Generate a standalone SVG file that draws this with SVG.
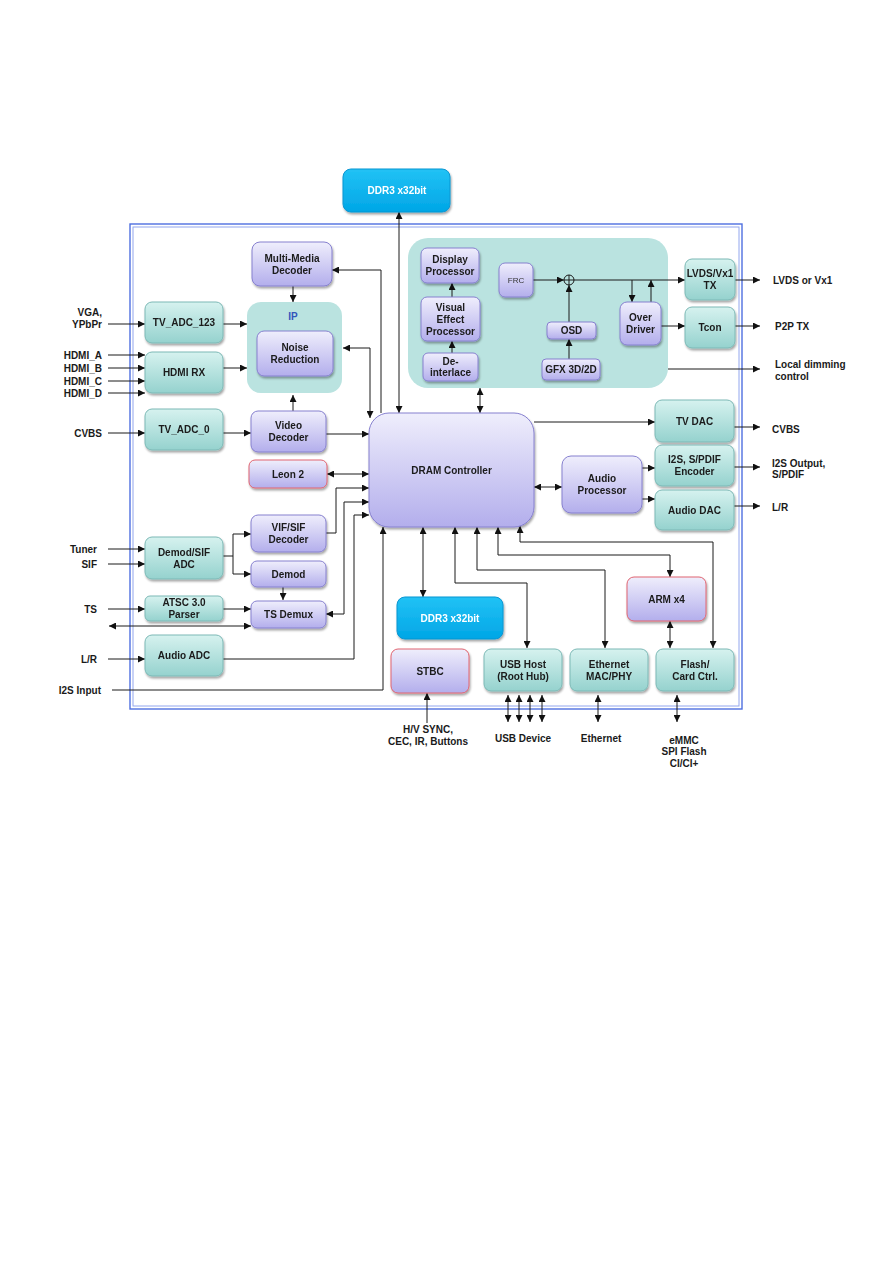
<svg xmlns="http://www.w3.org/2000/svg" width="893" height="1263" viewBox="0 0 893 1263">
<defs>
<linearGradient id="gTeal" x1="0" y1="0" x2="0" y2="1"><stop offset="0" stop-color="#d6f2ef"/><stop offset="1" stop-color="#95d2ce"/></linearGradient>
<linearGradient id="gPur" x1="0" y1="0" x2="0" y2="1"><stop offset="0" stop-color="#efeefc"/><stop offset="1" stop-color="#b3aeec"/></linearGradient>
<linearGradient id="gBlue" x1="0" y1="0" x2="0" y2="1"><stop offset="0" stop-color="#22c2f5"/><stop offset="1" stop-color="#00a6e6"/></linearGradient>
<filter id="sh" x="-10%" y="-10%" width="125%" height="130%"><feDropShadow dx="1" dy="2" stdDeviation="1.3" flood-color="#000" flood-opacity="0.35"/></filter>
<marker id="ah" viewBox="0 0 10 10" refX="10" refY="5" markerWidth="8" markerHeight="7" markerUnits="userSpaceOnUse" orient="auto-start-reverse"><path d="M0,0 L10,5 L0,10 z" fill="#111"/></marker>
<style>
.teal{fill:url(#gTeal);stroke:#7db9b6;stroke-width:1}
.pur{fill:url(#gPur);stroke:#8680cf;stroke-width:1}
.red{fill:url(#gPur);stroke:#e06470;stroke-width:1}
.ddr{fill:url(#gBlue);stroke:#0a96d2;stroke-width:1}
.area{fill:#bae3e0;stroke:none}
text{font-family:"Liberation Sans",Arial,sans-serif;font-weight:bold;font-size:10px;fill:#1a1a1a}
.c{text-anchor:middle}
.e{text-anchor:end}
.w{fill:#ffffff}
.ip{fill:#3355bb}
.frc{font-size:8px;font-weight:normal;fill:#333}
#connectors path,#connectors line{fill:none;stroke:#1a1a1a;stroke-width:1}
.a{marker-end:url(#ah)}
.d{marker-start:url(#ah);marker-end:url(#ah)}
</style>
</defs>
<rect width="893" height="1263" fill="#ffffff"/>
<g id="frame">
<rect x="130" y="224" width="612" height="485" fill="none" stroke="#4f6fe0" stroke-width="1.4"/>
<rect x="133" y="227" width="606" height="479" fill="none" stroke="#92a6ee" stroke-width="1"/>
</g>
<g id="display-area"><rect class="area" x="408" y="238" width="260" height="150" rx="20"/></g>
<g id="ip-area"><rect class="area" x="247" y="302" width="95" height="91" rx="14"/><text class="c ip" x="293" y="320">IP</text></g>

<g id="connectors">
<path class="d" d="M399,212 V413"/>
<path class="a" d="M381,413 V270 H332"/>
<path class="d" d="M343,348 H370 V418"/>
<path class="a" d="M293,286 V302"/>
<path class="a" d="M223,324 H247"/>
<path class="a" d="M223,368 H247"/>
<path class="a" d="M293,411 V395"/>
<path class="a" d="M223,433 H251"/>
<path class="a" d="M326,434 H369"/>
<path class="d" d="M327,474 H369"/>
<path class="a" d="M326,533 H336 V488 H369"/>
<path class="d" d="M369,502 H344 V614 H326"/>
<path class="a" d="M223,659 H354 V515 H369"/>
<path class="a" d="M112,690 H383 V527"/>
<path class="a" d="M223,556 H233 V534 H251"/>
<path class="a" d="M233,556 V574 H251"/>
<path class="a" d="M283,587 V600"/>
<path class="a" d="M223,609 H251"/>
<path class="d" d="M109,626 H251"/>
<path class="a" d="M108,324 H145"/>
<path class="a" d="M108,355 H145"/>
<path class="a" d="M108,368 H145"/>
<path class="a" d="M108,381 H145"/>
<path class="a" d="M108,393 H145"/>
<path class="a" d="M108,433 H145"/>
<path class="a" d="M108,549 H145"/>
<path class="a" d="M108,564 H145"/>
<path class="a" d="M108,609 H145"/>
<path class="a" d="M108,659 H145"/>
<path class="d" d="M480,388 V413"/>
<path class="a" d="M452,353 V341"/>
<path class="a" d="M452,297 V283"/>
<path class="a" d="M533,280 H564"/>
<path class="a" d="M569,359 V339"/>
<path class="a" d="M569,322 V285"/>
<path class="a" d="M574,280 H685"/>
<path class="a" d="M632,280 V302"/>
<path class="a" d="M651,302 V280"/>
<path class="a" d="M661,326 H685"/>
<path class="a" d="M735,280 H760"/>
<path class="a" d="M735,326 H760"/>
<path class="a" d="M668,369 H760"/>
<path class="a" d="M534,422 H655"/>
<path class="d" d="M534,487 H562"/>
<path class="a" d="M642,468 H655"/>
<path class="a" d="M642,499 H655"/>
<path class="a" d="M734,427 H760"/>
<path class="a" d="M734,467 H760"/>
<path class="a" d="M734,506 H760"/>
<path class="d" d="M423,527 V597"/>
<path class="d" d="M527,648 V583 H455 V527"/>
<path class="d" d="M605,648 V570 H477 V527"/>
<path class="d" d="M670,577 V555 H498 V527"/>
<path class="d" d="M713,648 V542 H520 V526"/>
<path class="d" d="M670,621 V648"/>
<path class="a" d="M427,723 V693"/>
<path class="d" d="M508,695 V722"/>
<path class="d" d="M519,695 V722"/>
<path class="d" d="M530,695 V722"/>
<path class="d" d="M542,695 V722"/>
<path class="d" d="M598,695 V722"/>
<path class="d" d="M677,695 V722"/>
<circle cx="569" cy="280" r="5" fill="#bae3e0" stroke="#1a1a1a" stroke-width="1"/>
<line x1="564" y1="280" x2="574" y2="280"/>
<line x1="569" y1="275" x2="569" y2="285"/>
</g>

<g id="ddr3-top" filter="url(#sh)"><rect class="ddr" x="343" y="169" width="107" height="43" rx="8"/><text class="c w" x="397" y="194">DDR3 x32bit</text></g>
<g id="mm-decoder" filter="url(#sh)"><rect class="pur" x="252" y="242" width="80" height="44" rx="8"/><text class="c" x="292" y="261.5">Multi-Media</text><text class="c" x="292" y="273.5">Decoder</text></g>
<g id="noise-reduction" filter="url(#sh)"><rect class="pur" x="257" y="331" width="76" height="45" rx="7"/><text class="c" x="295" y="351">Noise</text><text class="c" x="295" y="363">Reduction</text></g>
<g id="tv-adc-123" filter="url(#sh)"><rect class="teal" x="145" y="302" width="78" height="41" rx="7"/><text class="c" x="184" y="326">TV_ADC_123</text></g>
<g id="hdmi-rx" filter="url(#sh)"><rect class="teal" x="145" y="352" width="78" height="41" rx="7"/><text class="c" x="184" y="376">HDMI RX</text></g>
<g id="tv-adc-0" filter="url(#sh)"><rect class="teal" x="145" y="409" width="78" height="41" rx="7"/><text class="c" x="184" y="433">TV_ADC_0</text></g>
<g id="video-decoder" filter="url(#sh)"><rect class="pur" x="251" y="411" width="75" height="41" rx="7"/><text class="c" x="288.5" y="429">Video</text><text class="c" x="288.5" y="441">Decoder</text></g>
<g id="leon2" filter="url(#sh)"><rect class="red" x="249" y="460" width="78" height="28" rx="6"/><text class="c" x="288" y="477.5">Leon 2</text></g>
<g id="vif-sif" filter="url(#sh)"><rect class="pur" x="251" y="515" width="75" height="37" rx="7"/><text class="c" x="288.5" y="531">VIF/SIF</text><text class="c" x="288.5" y="543">Decoder</text></g>
<g id="demod" filter="url(#sh)"><rect class="pur" x="251" y="561" width="75" height="26" rx="6"/><text class="c" x="288.5" y="577.5">Demod</text></g>
<g id="ts-demux" filter="url(#sh)"><rect class="pur" x="251" y="601" width="75" height="27" rx="6"/><text class="c" x="288.5" y="618">TS Demux</text></g>
<g id="demod-sif-adc" filter="url(#sh)"><rect class="teal" x="145" y="537" width="78" height="42" rx="7"/><text class="c" x="184" y="555.5">Demod/SIF</text><text class="c" x="184" y="567.5">ADC</text></g>
<g id="atsc-parser" filter="url(#sh)"><rect class="teal" x="145" y="596" width="78" height="25" rx="5"/><text class="c" x="184" y="605.5">ATSC 3.0</text><text class="c" x="184" y="617.5">Parser</text></g>
<g id="audio-adc" filter="url(#sh)"><rect class="teal" x="145" y="635" width="78" height="41" rx="7"/><text class="c" x="184" y="659">Audio ADC</text></g>
<g id="dram-controller" filter="url(#sh)"><rect class="pur" x="369" y="413" width="165" height="114" rx="20"/><text class="c" x="451.5" y="473.5">DRAM Controller</text></g>
<g id="display-processor" filter="url(#sh)"><rect class="pur" x="421" y="248" width="58" height="35" rx="6"/><text class="c" x="450" y="263">Display</text><text class="c" x="450" y="275">Processor</text></g>
<g id="visual-effect" filter="url(#sh)"><rect class="pur" x="421" y="297" width="59" height="44" rx="6"/><text class="c" x="450.5" y="310.5">Visual</text><text class="c" x="450.5" y="322.5">Effect</text><text class="c" x="450.5" y="334.5">Processor</text></g>
<g id="deinterlace" filter="url(#sh)"><rect class="pur" x="423" y="353" width="55" height="28" rx="5"/><text class="c" x="450.5" y="364.5">De-</text><text class="c" x="450.5" y="375.5">interlace</text></g>
<g id="frc" filter="url(#sh)"><rect class="pur" x="499" y="263" width="34" height="34" rx="6"/><text class="c frc" x="516" y="283">FRC</text></g>
<g id="osd" filter="url(#sh)"><rect class="pur" x="547" y="322" width="49" height="17" rx="4"/><text class="c" x="571.5" y="334">OSD</text></g>
<g id="gfx" filter="url(#sh)"><rect class="pur" x="542" y="359" width="58" height="21" rx="4"/><text class="c" x="571" y="373">GFX 3D/2D</text></g>
<g id="over-driver" filter="url(#sh)"><rect class="pur" x="620" y="302" width="41" height="43" rx="7"/><text class="c" x="640.5" y="321">Over</text><text class="c" x="640.5" y="333">Driver</text></g>
<g id="lvds-tx" filter="url(#sh)"><rect class="teal" x="685" y="259" width="50" height="41" rx="7"/><text class="c" x="710" y="277">LVDS/Vx1</text><text class="c" x="710" y="289">TX</text></g>
<g id="tcon" filter="url(#sh)"><rect class="teal" x="685" y="307" width="50" height="41" rx="7"/><text class="c" x="710" y="331">Tcon</text></g>
<g id="tv-dac" filter="url(#sh)"><rect class="teal" x="655" y="400" width="79" height="42" rx="7"/><text class="c" x="694.5" y="424.5">TV DAC</text></g>
<g id="i2s-encoder" filter="url(#sh)"><rect class="teal" x="655" y="445" width="79" height="41" rx="7"/><text class="c" x="694.5" y="463">I2S, S/PDIF</text><text class="c" x="694.5" y="475">Encoder</text></g>
<g id="audio-dac" filter="url(#sh)"><rect class="teal" x="655" y="490" width="79" height="40" rx="7"/><text class="c" x="694.5" y="513.5">Audio DAC</text></g>
<g id="audio-processor" filter="url(#sh)"><rect class="pur" x="562" y="456" width="80" height="57" rx="9"/><text class="c" x="602" y="482">Audio</text><text class="c" x="602" y="494">Processor</text></g>
<g id="ddr3-bottom" filter="url(#sh)"><rect class="ddr" x="397" y="597" width="106" height="42" rx="8"/><text class="c w" x="450" y="621.5">DDR3 x32bit</text></g>
<g id="stbc" filter="url(#sh)"><rect class="red" x="391" y="649" width="78" height="44" rx="7"/><text class="c" x="430" y="674.5">STBC</text></g>
<g id="usb-host" filter="url(#sh)"><rect class="teal" x="484" y="649" width="78" height="42" rx="7"/><text class="c" x="523" y="667.5">USB Host</text><text class="c" x="523" y="679.5">(Root Hub)</text></g>
<g id="ethernet-mac" filter="url(#sh)"><rect class="teal" x="570" y="649" width="78" height="42" rx="7"/><text class="c" x="609" y="667.5">Ethernet</text><text class="c" x="609" y="679.5">MAC/PHY</text></g>
<g id="flash-card" filter="url(#sh)"><rect class="teal" x="656" y="649" width="78" height="42" rx="7"/><text class="c" x="695" y="667.5">Flash/</text><text class="c" x="695" y="679.5">Card Ctrl.</text></g>
<g id="arm" filter="url(#sh)"><rect class="red" x="627" y="577" width="79" height="44" rx="7"/><text class="c" x="666.5" y="602.5">ARM x4</text></g>

<g id="labels">
<text class="e" x="102" y="316">VGA,</text>
<text class="e" x="102" y="328">YPbPr</text>
<text class="e" x="102" y="358.5">HDMI_A</text>
<text class="e" x="102" y="371.5">HDMI_B</text>
<text class="e" x="102" y="384.5">HDMI_C</text>
<text class="e" x="102" y="396.5">HDMI_D</text>
<text class="e" x="102" y="437">CVBS</text>
<text class="e" x="97" y="552.5">Tuner</text>
<text class="e" x="97" y="568">SIF</text>
<text class="e" x="97" y="613">TS</text>
<text class="e" x="97" y="663">L/R</text>
<text class="e" x="101" y="693.5">I2S Input</text>
<text x="773" y="283.5">LVDS  or Vx1</text>
<text x="775" y="330">P2P  TX</text>
<text x="775" y="367.5">Local dimming</text>
<text x="775" y="379.5">control</text>
<text x="772" y="432.5">CVBS</text>
<text x="772" y="466.5">I2S Output,</text>
<text x="772" y="477.5">S/PDIF</text>
<text x="772" y="510.5">L/R</text>
<text class="c" x="428" y="732.5">H/V SYNC,</text>
<text class="c" x="428" y="744.5">CEC, IR, Buttons</text>
<text class="c" x="523" y="741.5">USB Device</text>
<text class="c" x="601" y="741.5">Ethernet</text>
<text class="c" x="684" y="743.5">eMMC</text>
<text class="c" x="684" y="754.5">SPI Flash</text>
<text class="c" x="684" y="766.5">CI/CI+</text>
</g>
</svg>
